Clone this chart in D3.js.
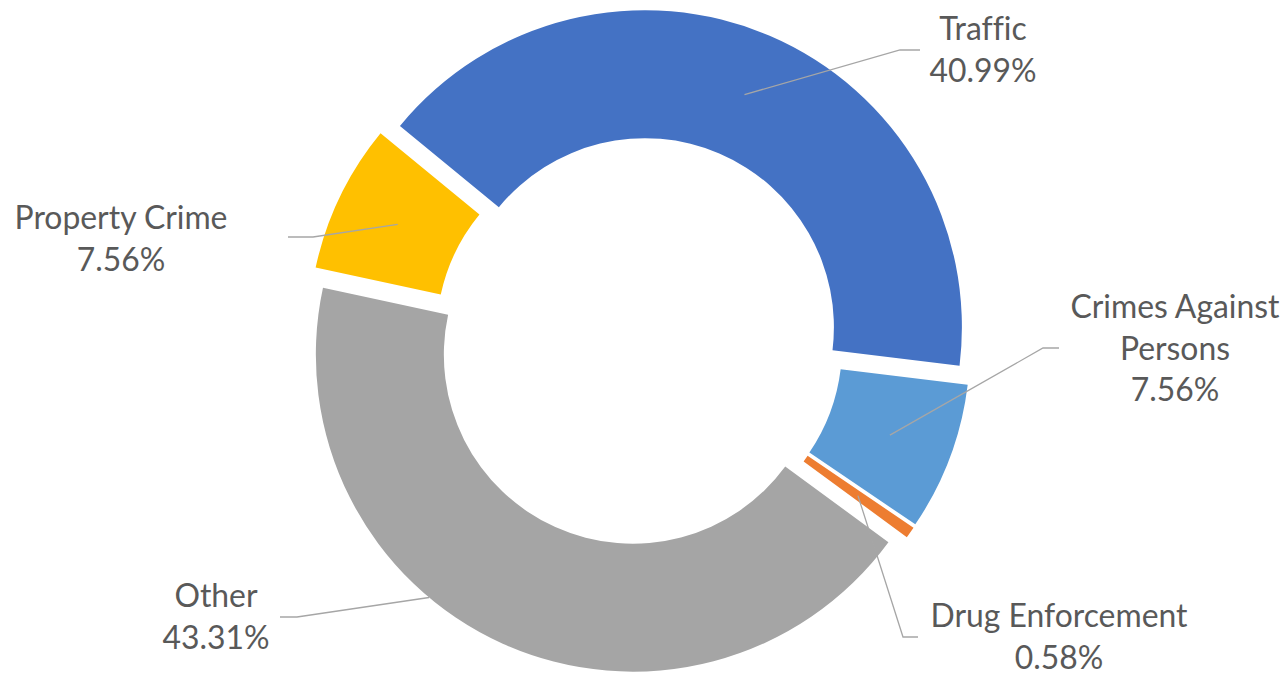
<!DOCTYPE html>
<html>
<head>
<meta charset="utf-8">
<script src="https://cdn.jsdelivr.net/npm/d3@7"></script>
<style>
  html, body { margin: 0; padding: 0; background: #ffffff; }
  svg { display: block; }
  text { font-variant-ligatures: none; font-feature-settings: "liga" 0; }
</style>
</head>
<body>
<svg id="chart" width="1285" height="674"></svg>
<script>
// ---- data ----
const categories = ["Traffic", "Crimes Against Persons", "Drug Enforcement", "Other", "Property Crime"];
const values = [40.99, 7.56, 0.58, 43.31, 7.56];
const colors = ["#4472C4", "#5B9BD5", "#ED7D31", "#A5A5A5", "#FFC000"];
const labelNames = [["Traffic"], ["Crimes Against", "Persons"], ["Drug Enforcement"], ["Other"], ["Property Crime"]];

// ---- layout ----
const W = 1285, H = 674;
const cx = 639, cy = 341;
const outerR = 317, innerR = 189, explode = 15;
const startDeg = -50.6;
const lineGap = 41.5;
const textColor = "#595959";
const leaderColor = "#A6A6A6";

// label placement: text centre x, first baseline y, leader elbow & end, and leader anchor
const labelLayout = {
  "Traffic":                {x: 983,  y: 40,  elbow: [900, 50],  end: [920, 50]},
  "Crimes Against Persons": {x: 1175, y: 318, elbow: [1043, 348], end: [1059, 348]},
  "Drug Enforcement":       {x: 1059, y: 627, elbow: [903, 637], end: [918, 637]},
  "Other":                  {x: 216,  y: 607, elbow: [297, 617], end: [280, 617], anchorDeg: 220, anchorR: outerR},
  "Property Crime":         {x: 121,  y: 229, elbow: [313, 237], end: [288, 237]}
};

const svg = d3.select("#chart");
const g = svg.append("g").attr("transform", `translate(${cx},${cy})`);

const rad = d => d * Math.PI / 180;
const pie = d3.pie().sort(null).value(d => d.value)
  .startAngle(rad(startDeg)).endAngle(rad(startDeg) + 2 * Math.PI);
const arc = d3.arc().innerRadius(innerR).outerRadius(outerR);

const data = categories.map((c, i) => ({name: c, value: values[i], color: colors[i], lines: labelNames[i]}));
const arcs = pie(data);

function offsetOf(a) {
  const mid = (a.startAngle + a.endAngle) / 2;
  return [Math.sin(mid) * explode, -Math.cos(mid) * explode];
}

g.selectAll("path.slice").data(arcs).join("path")
  .attr("class", "slice")
  .attr("d", arc)
  .attr("fill", d => d.data.color)
  .attr("transform", d => { const o = offsetOf(d); return `translate(${o[0]},${o[1]})`; });

// leader lines
const leaders = svg.append("g");
arcs.forEach(a => {
  const L = labelLayout[a.data.name];
  const o = offsetOf(a);
  let p;
  if (L.anchorDeg !== undefined) {
    const ang = rad(L.anchorDeg);
    p = [Math.sin(ang) * L.anchorR, -Math.cos(ang) * L.anchorR];
  } else {
    p = arc.centroid(a);
  }
  const start = [cx + p[0] + o[0], cy + p[1] + o[1]];
  leaders.append("path")
    .attr("d", d3.line()([start, L.elbow, L.end]))
    .attr("fill", "none")
    .attr("stroke", leaderColor)
    .attr("stroke-width", 1.3);
});

// labels
const fmt = v => v.toFixed(2) + "%";
const labels = svg.append("g")
  .attr("font-family", "Lato, 'Open Sans', 'Noto Sans', sans-serif")
  .attr("fill", textColor)
  .attr("text-anchor", "middle");

// fit font size so "Property Crime" spans ~213px (as in reference)
const probe = labels.append("text").attr("font-size", 30).text("Property Crime");
const probeW = probe.node().getComputedTextLength();
probe.remove();
const fontSize = Math.max(26, Math.min(36, 30 * 213 / probeW));
labels.attr("font-size", fontSize);

arcs.forEach(a => {
  const L = labelLayout[a.data.name];
  const lines = a.data.lines.concat([fmt(a.data.value)]);
  lines.forEach((t, i) => {
    labels.append("text")
      .attr("x", L.x)
      .attr("y", L.y + i * lineGap)
      .text(t);
  });
});
</script>
</body>
</html>
